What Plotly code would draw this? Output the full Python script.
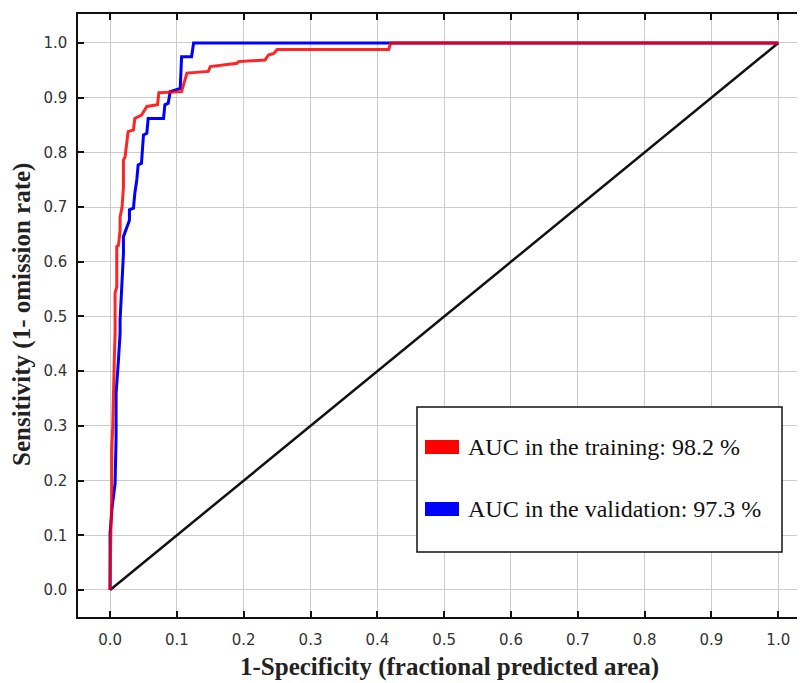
import plotly.graph_objects as go

# ---- data ----
train_fpr = [0, 0, 0.001, 0.0025, 0.0025, 0.004, 0.005, 0.0065, 0.0075, 0.0075, 0.010, 0.010,
             0.0125, 0.015, 0.015, 0.018, 0.020, 0.020, 0.0225, 0.025, 0.027, 0.035, 0.037,
             0.047, 0.050, 0.055, 0.071, 0.073, 0.107, 0.115, 0.147, 0.150, 0.190, 0.192,
             0.232, 0.237, 0.245, 0.250, 0.417, 0.420, 1.0]
train_tpr = [0, 0.05, 0.10, 0.16, 0.256, 0.30, 0.378, 0.43, 0.469, 0.543, 0.554, 0.628,
             0.63, 0.658, 0.682, 0.70, 0.737, 0.786, 0.792, 0.82, 0.838, 0.841, 0.862,
             0.868, 0.875, 0.884, 0.887, 0.909, 0.911, 0.945, 0.948, 0.957, 0.963, 0.966,
             0.969, 0.978, 0.981, 0.988, 0.988, 1.0, 1.0]

valid_fpr = [0, 0, 0.003, 0.0075, 0.009, 0.009, 0.0125, 0.015, 0.015, 0.0175, 0.020, 0.020,
             0.025, 0.029, 0.029, 0.035, 0.037, 0.040, 0.042, 0.047, 0.050, 0.055, 0.057,
             0.080, 0.082, 0.087, 0.090, 0.105, 0.107, 0.122, 0.125, 1.0]
valid_tpr = [0, 0.104, 0.15, 0.195, 0.28, 0.36, 0.42, 0.469, 0.494, 0.554, 0.615, 0.646,
             0.664, 0.676, 0.695, 0.698, 0.725, 0.75, 0.777, 0.78, 0.832, 0.835, 0.862,
             0.862, 0.887, 0.890, 0.911, 0.917, 0.975, 0.975, 1.0, 1.0]

diag = [0, 1]
ticks = [0.0, 0.1, 0.2, 0.3, 0.4, 0.5, 0.6, 0.7, 0.8, 0.9, 1.0]
tick_text = [f"{t:.1f}" for t in ticks]

legend_labels = ["AUC in the training: 98.2 %", "AUC in the validation: 97.3 %"]
legend_colors = ["#ff0000", "#0000ff"]

x_title = "1-Specificity (fractional predicted area)"
y_title = "Sensitivity (1- omission rate)"

# page body has an 8px margin; figure is sized to fill the rest of the window
W, H = 797, 675
L, R, T, B = 70, 0, 6, 66

fig = go.Figure()
fig.add_trace(go.Scatter(x=diag, y=diag, mode="lines",
                         line=dict(color="#111111", width=2.5), showlegend=False))
fig.add_trace(go.Scatter(x=valid_fpr, y=valid_tpr, mode="lines",
                         line=dict(color="#0000ff", width=3), showlegend=False))
fig.add_trace(go.Scatter(x=train_fpr, y=train_tpr, mode="lines", opacity=0.85,
                         line=dict(color="#ff0000", width=3), showlegend=False))

tickfont = dict(family="DejaVu Sans", size=15, color="#333333")
fig.update_xaxes(range=[-0.048, 1.040], tickvals=ticks, ticktext=tick_text,
                 showgrid=True, gridcolor="#cccccc", gridwidth=1, zeroline=False,
                 showline=True, linecolor="#111111", linewidth=1.5, mirror="ticks",
                 ticks="inside", ticklen=6, tickwidth=1.5, tickcolor="#111111",
                 tickfont=tickfont, ticklabelstandoff=8)
fig.update_yaxes(range=[-0.0494, 1.053], tickvals=ticks, ticktext=tick_text,
                 showgrid=True, gridcolor="#cccccc", gridwidth=1, zeroline=False,
                 showline=True, linecolor="#111111", linewidth=1.5, mirror=False,
                 ticks="inside", ticklen=6, tickwidth=1.5, tickcolor="#111111",
                 tickfont=tickfont, ticklabelstandoff=6)

# helpers: reference-window pixel -> paper coordinates
pw, ph = W - L - R, H - T - B
FL, FB = 78, 617  # frame left / bottom in window pixels
def px(xr):
    return (xr - FL) / pw
def py(yr):
    return (FB - yr) / ph

shapes = [dict(type="rect", xref="paper", yref="paper",
               x0=px(417), x1=px(782), y0=py(552), y1=py(407),
               line=dict(color="#111111", width=1.5), fillcolor="white", layer="above")]
annotations = []
rows_y = [447, 509]
for lab, col, yc in zip(legend_labels, legend_colors, rows_y):
    shapes.append(dict(type="rect", xref="paper", yref="paper",
                       x0=px(425), x1=px(459), y0=py(yc + 7), y1=py(yc - 7),
                       line=dict(width=0), fillcolor=col, layer="above"))
    annotations.append(dict(xref="paper", yref="paper", x=px(466), y=py(yc),
                            xanchor="left", yanchor="middle", showarrow=False, text=lab,
                            font=dict(family="Liberation Serif", size=24, color="#111111")))

titlefont = dict(family="Liberation Serif", size=25, color="#222222")
annotations.append(dict(xref="paper", yref="paper", x=px(449), y=py(667),
                        xanchor="center", yanchor="middle", showarrow=False,
                        text=f"<b>{x_title}</b>", font=titlefont))
annotations.append(dict(xref="paper", yref="paper", x=px(22), y=py(315),
                        xanchor="center", yanchor="middle", showarrow=False, textangle=-90,
                        text=f"<b>{y_title}</b>", font=titlefont))

fig.update_layout(width=W, height=H, margin=dict(l=L, r=R, t=T, b=B),
                  plot_bgcolor="white", paper_bgcolor="white",
                  shapes=shapes, annotations=annotations, showlegend=False)

fig.write_html("out.html")
